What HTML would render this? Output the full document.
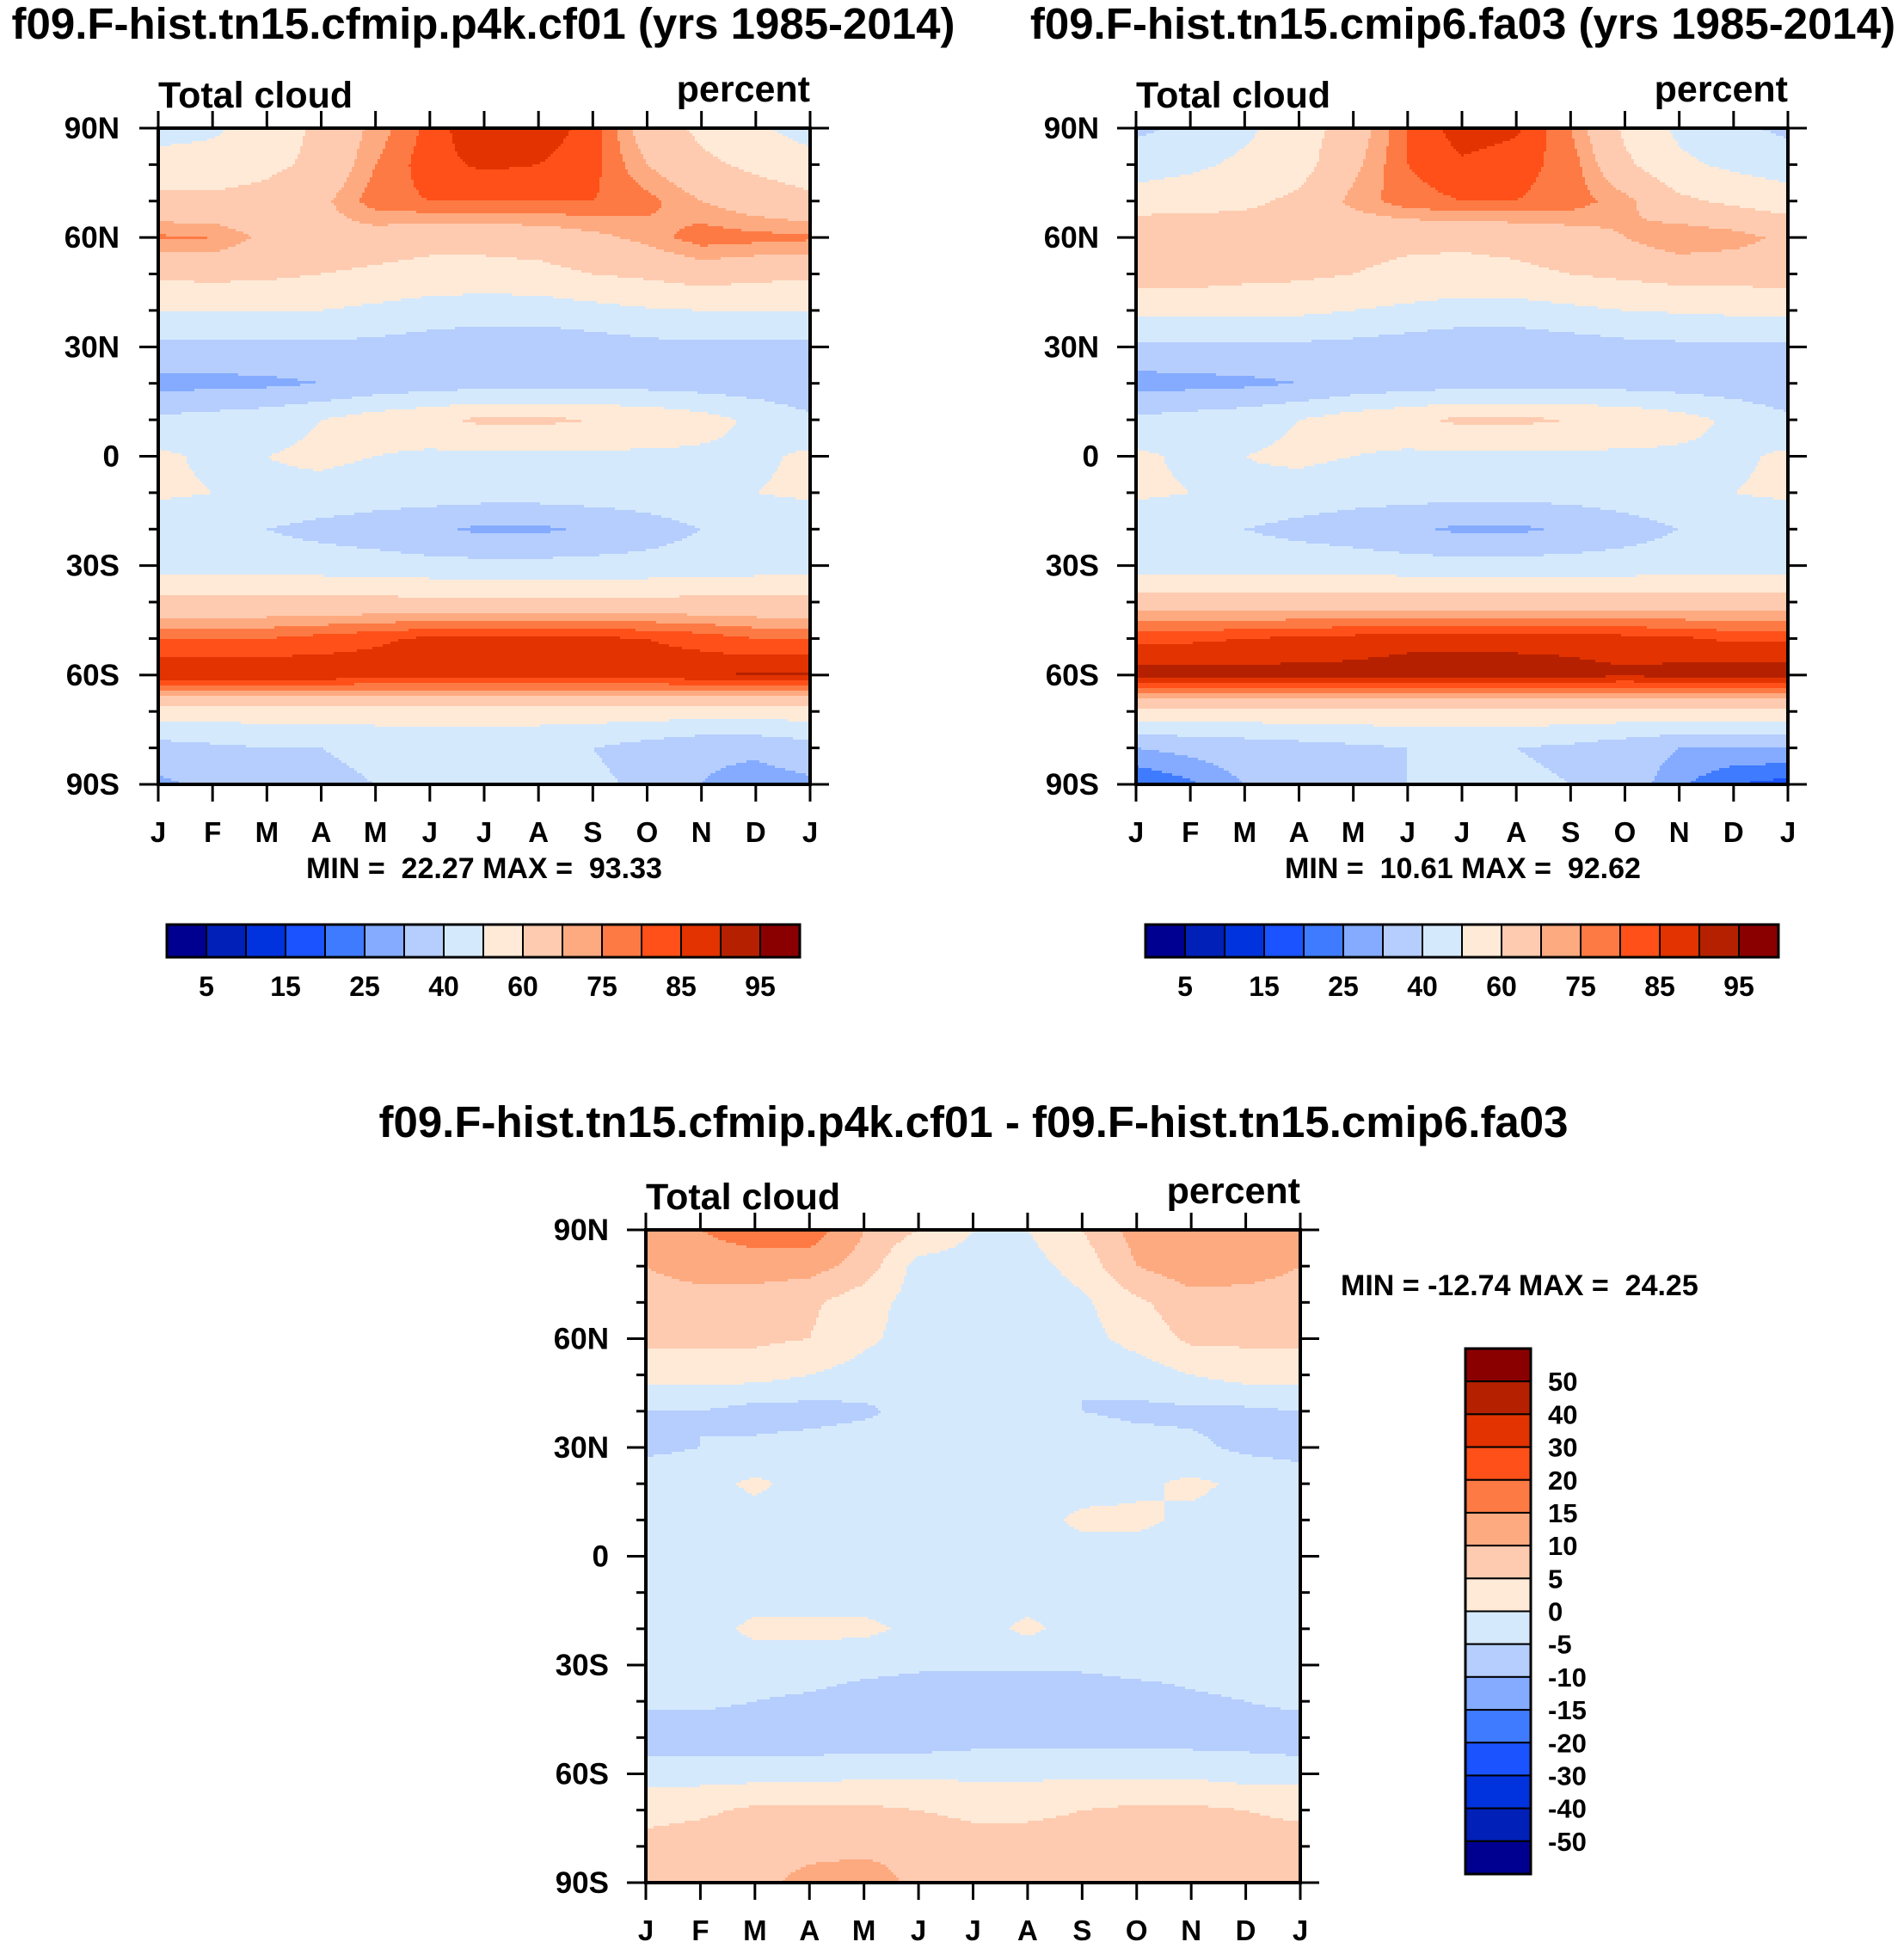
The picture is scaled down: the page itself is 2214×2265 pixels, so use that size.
<!DOCTYPE html>
<html><head><meta charset="utf-8">
<style>
html,body{margin:0;padding:0;background:#fff;}
svg{display:block;}
text{font-family:"Liberation Sans",sans-serif;font-weight:bold;fill:#000;white-space:pre;}
</style></head>
<body>
<svg id="fig" width="2214" height="2265" viewBox="0 0 2214 2265" xmlns="http://www.w3.org/2000/svg" xml:space="preserve">
<rect width="2214" height="2265" fill="#fff"/>
<g id="root"></g>
</svg>
<script>
// ---------- data ----------
const months = ["J","F","M","A","M","J","J","A","S","O","N","D","J"];
const latTicks = ["90N","60N","30N","0","30S","60S","90S"];
const lats = [90,80,70,60,50,40,30,20,10,0,-10,-20,-30,-40,-50,-60,-70,-80,-90];
const fillLevels = [5,10,15,20,25,30,40,50,60,70,75,80,85,90,95];
const fillLabels = ["5","15","25","40","60","75","85","95"];
const diffLevels = [-50,-40,-30,-20,-15,-10,-5,0,5,10,15,20,30,40,50];
const diffLabels = ["-50","-40","-30","-20","-15","-10","-5","0","5","10","15","20","30","40","50"];
const palette = ["#000090","#0020b8","#0033dd","#1a53ff","#3f7bff","#84abff","#b5cefd","#d5e9fd","#feead7","#fecbb0","#feaa80","#fe7a44","#fe5018","#e23300","#b52100","#8a0000"];

const cloudA = [
 [45,48,55,62,72,82,90,88,83,65,58,52,45],
 [55,55,58,62,75,83,86,85,82,70,62,58,55],
 [62,62,63,68,78,80,80,80,80,77,70,65,62],
 [76,75,68,67,66,64,64,65,68,72,78,77,76],
 [62,63,62,60,58,56,56,57,60,62,65,63,62],
 [50,50,50,50,48,46,45,45,47,49,50,50,50],
 [38,38,38,38,37,35,33,33,35,37,38,38,38],
 [27,27,28,30,33,35,36,36,36,36,35,34,32],
 [42,44,46,50,55,58,62,62,60,58,54,48,42],
 [52,48,50,52,50,48,48,48,48,48,48,48,52],
 [52,50,48,47,45,45,45,45,45,45,47,50,52],
 [42,42,40,37,35,32,28,28,32,36,40,42,42],
 [45,45,45,45,44,43,43,43,43,43,44,45,45],
 [63,63,63,63,63,63,63,63,63,63,63,63,63],
 [80,80,80,82,84,86,86,86,86,85,83,80,80],
 [90,90,90,89,88,88,88,88,88,88,89,91,91],
 [55,55,55,55,55,55,55,55,55,55,55,55,55],
 [36,38,40,40,42,42,42,42,40,36,32,32,36],
 [28,32,36,38,40,42,45,45,42,38,30,26,28]
];
const cloudB = [
 [38,42,48,55,65,80,88,86,75,58,48,42,38],
 [45,48,52,56,68,80,84,82,78,62,52,48,45],
 [55,56,58,62,72,78,80,80,78,72,62,58,55],
 [68,68,66,64,63,62,62,63,66,70,75,73,68],
 [65,65,63,62,60,58,57,58,60,62,64,64,65],
 [52,52,52,52,50,48,46,46,48,50,51,52,52],
 [38,38,38,38,37,35,33,33,35,37,38,38,38],
 [26,27,28,30,33,35,36,36,36,36,35,34,32],
 [42,44,46,50,55,58,62,62,60,58,54,48,42],
 [52,48,50,52,50,48,48,48,48,48,48,48,52],
 [52,50,48,46,44,44,44,44,44,45,47,50,52],
 [42,42,40,37,35,32,28,28,32,36,40,42,42],
 [46,46,46,46,45,44,44,44,44,44,45,46,46],
 [65,65,65,65,65,65,65,65,65,65,65,65,65],
 [84,84,85,86,87,88,88,88,88,87,86,84,84],
 [92,92,92,92,92,93,93,93,92,91,92,93,93],
 [57,57,57,57,57,57,57,57,57,57,57,57,57],
 [30,32,34,36,38,40,40,40,38,34,30,30,30],
 [20,24,30,32,36,40,42,42,40,34,26,20,18]
];
const cloudDiff = [
 [10,15,18,18,10,5,0,0,5,12,15,15,10],
 [10,12,12,12,8,-2,-2,-2,2,10,13,12,10],
 [8,8,8,6,2,-2,-3,-3,-1,4,8,8,8],
 [6,6,6,5,1,-2,-3,-3,-2,2,6,6,6],
 [2,2,2,0,-2,-2,-3,-3,-5,-3,0,2,2],
 [-5,-5,-7,-7,-6,-3,-3,-3,-5,-6,-6,-6,-5],
 [-6,-5,-4,-3,-2,-2,-2,-2,-2,-3,-4,-6,-7],
 [-2,-2,1,-2,-2,-2,-5,-2,-2,-1,1,-1,-2],
 [-2,-2,-2,-2,-2,-2,-2,-2,1,1,-1,-2,-2],
 [-2,-2,-2,-2,-2,-2,-2,-2,-2,-2,-2,-2,-2],
 [-2,-2,-2,-2,-2,-2,-2,-2,-2,-2,-2,-2,-2],
 [-2,-2,1,1,1,-1,-2,1,-2,-2,-2,-2,-2],
 [-2,-2,-2,-2,-3,-4,-4,-4,-4,-3,-3,-2,-2],
 [-4,-4,-5,-6,-8,-9,-10,-10,-9,-8,-6,-5,-4],
 [-8,-8,-8,-8,-8,-8,-7,-7,-7,-7,-7,-7,-8],
 [-2,-2,-2,-2,-1,-1,-1,-1,-1,-1,-1,-2,-2],
 [3,4,6,6,6,5,4,4,5,6,6,5,4],
 [7,8,8,8,8,8,7,7,7,6,7,7,7],
 [6,5,8,12,14,8,7,7,6,7,6,7,6]
];

// ---------- drawing ----------
const NS="http://www.w3.org/2000/svg";
const root=document.getElementById('root');
function mk(tag,attrs,parent){const e=document.createElementNS(NS,tag);for(const k in attrs)e.setAttribute(k,attrs[k]);(parent||root).appendChild(e);return e;}
function txt(s,x,y,size,anchor,parent){const t=mk('text',{x:x,y:y,'font-size':size,'text-anchor':anchor||'start'},parent);t.textContent=s;return t;}
function colorIdx(v,levels){let i=0;while(i<levels.length&&v>=levels[i])i++;return i;}

function panel(name,grid,levels,L,T,W,H,ylabX){
  const g=mk('g',{});
  
  
  const nx=grid[0].length, ny=grid.length;
  const xScale=f=>L+f*W; const yScale=lat=>T+(90-lat)/180*H;
  function val(px,py){
    const fx=Math.min(nx-1,Math.max(0,(px-L)/W*(nx-1))), fy=Math.min(ny-1,Math.max(0,(py-T)/H*(ny-1)));
    const i=Math.min(nx-2,Math.floor(fx)), j=Math.min(ny-2,Math.floor(fy));
    const tx=fx-i, ty=fy-j;
    return grid[j][i]*(1-tx)*(1-ty)+grid[j][i+1]*tx*(1-ty)+grid[j+1][i]*(1-tx)*ty+grid[j+1][i+1]*tx*ty;
  }
  const step=3;
  const cg=mk('g',{},g);
  
  
  function flush(x0,x1,y,h,c){
    const r=mk('rect',{x:x0,y:y,width:x1-x0+0.6,height:h+0.6,fill:palette[c]},cg);
    
    
  }
  for(let y=T;y<T+H;y+=step){
    const h=Math.min(step,T+H-y);
    let runStart=L, runC=colorIdx(val(L+step/2,y+h/2),levels);
    for(let x=L+step;x<L+W;x+=step){
      const c=colorIdx(val(x+step/2,y+h/2),levels);
      if(c!==runC){flush(runStart,x,y,h,runC);runStart=x;runC=c;}
    }
    flush(runStart,L+W,y,h,runC);
  }
  const fr=mk('rect',{x:L,y:T,width:W,height:H,fill:'none',stroke:'#000','stroke-width':4},g);
  
  
  for(let m=0;m<months.length;m++){
    const x=xScale(m/(months.length-1));
    mk('line',{x1:x,y1:T,x2:x,y2:T-20,stroke:'#000','stroke-width':3},g);
    mk('line',{x1:x,y1:T+H,x2:x,y2:T+H+20,stroke:'#000','stroke-width':3},g);
    const t=txt(months[m],x,T+H+67,33,'middle',g);
    
    
  }
  for(let lat=90;lat>=-90;lat-=10){
    const y=yScale(lat); const major=(lat%30===0); const len=major?22:11;
    mk('line',{x1:L,y1:y,x2:L-len,y2:y,stroke:'#000','stroke-width':3},g);
    mk('line',{x1:L+W,y1:y,x2:L+W+len,y2:y,stroke:'#000','stroke-width':3},g);
  }
  latTicks.forEach((s,k)=>{
    const t=txt(s,ylabX,yScale(90-30*k)+12,35,'end',g);
    
    
  });
  const a=txt('Total cloud',L,T-24,43,'start',g);
  
  
  const b=txt('percent',L+W,T-31,43,'end',g);
  
  
}

function hbar(name,L,T,W,H,levels,labels){
  const g=mk('g',{});
  
  
  const n=levels.length+1, bw=W/n;
  for(let i=0;i<n;i++){
    const r=mk('rect',{x:L+i*bw,y:T,width:bw,height:H,fill:palette[i],stroke:'#000','stroke-width':2},g);
    
    
  }
  mk('rect',{x:L,y:T,width:W,height:H,fill:'none',stroke:'#000','stroke-width':3},g);
  for(let i=0;i<levels.length;i+=2){
    const t=txt(labels[i/2],L+(i+1)*bw,T+H+45,32,'middle',g);
    
    
  }
}
function vbar(name,L,T,W,H,levels,labels){
  const g=mk('g',{});
  
  
  const n=levels.length+1, bh=H/n;
  for(let i=0;i<n;i++){
    const r=mk('rect',{x:L,y:T+i*bh,width:W,height:bh,fill:palette[n-1-i],stroke:'#000','stroke-width':2},g);
    
    
  }
  mk('rect',{x:L,y:T,width:W,height:H,fill:'none',stroke:'#000','stroke-width':3},g);
  for(let i=0;i<levels.length;i++){
    const t=txt(labels[levels.length-1-i],L+W+20,T+(i+1)*bh+11,31,'start',g);
    
    
  }
}

panel('panel-cfmip-p4k',cloudA,fillLevels,184,149,758,763,139);
panel('panel-cmip6-fa03',cloudB,fillLevels,1321,149,758,763,1278);
panel('panel-difference',cloudDiff,diffLevels,751,1430,761,759,708);
hbar('colorbar-1',194,1075,736,38,fillLevels,fillLabels);
hbar('colorbar-2',1332,1075,736,38,fillLevels,fillLabels);
vbar('colorbar-diff',1704,1568,76,611,diffLevels,diffLabels);

const titles=[
 ['title-1','f09.F-hist.tn15.cfmip.p4k.cf01 (yrs 1985-2014)',562,45,51,'middle'],
 ['title-2','f09.F-hist.tn15.cmip6.fa03 (yrs 1985-2014)',1701,45,51,'middle'],
 ['title-3','f09.F-hist.tn15.cfmip.p4k.cf01 - f09.F-hist.tn15.cmip6.fa03',1132,1322,51,'middle'],
 ['minmax-1','MIN =  22.27 MAX =  93.33',563,1021,34,'middle'],
 ['minmax-2','MIN =  10.61 MAX =  92.62',1701,1021,34,'middle'],
 ['minmax-diff','MIN = -12.74 MAX =  24.25',1559,1506,34,'start']
];
titles.forEach(d=>{const t=txt(d[1],d[2],d[3],d[4],d[5]);
 
 });
</script>
</body></html>
